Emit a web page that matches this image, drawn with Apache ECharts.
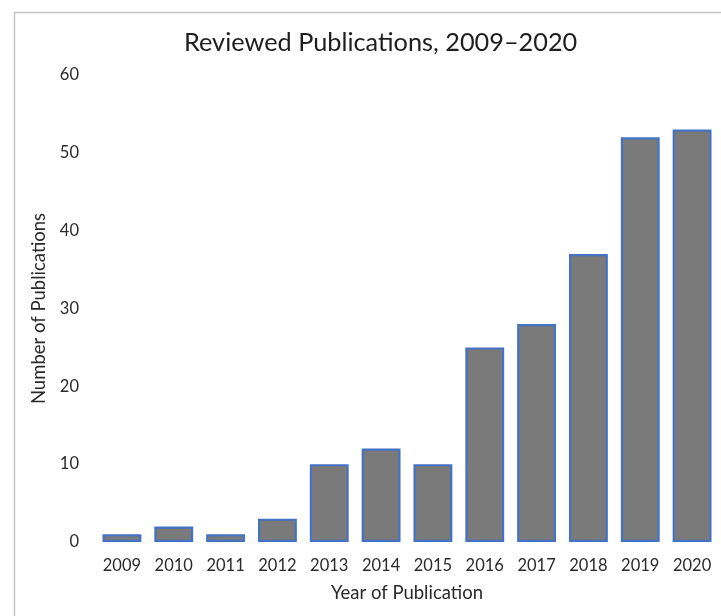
<!DOCTYPE html>
<html><head><meta charset="utf-8">
<script src="https://cdn.jsdelivr.net/npm/echarts@6/dist/echarts.min.js"></script>
<style>html,body{margin:0;padding:0;background:#fff}#c{width:721px;height:616px}</style>
</head><body><div id="c"></div>
<script>
const years = ['2009','2010','2011','2012','2013','2014','2015','2016','2017','2018','2019','2020'];
const publications = [1,2,1,3,10,12,10,25,28,37,52,53];
const chart = echarts.init(document.getElementById('c'));
const font = 'Lato, "Noto Sans", sans-serif';
chart.setOption({
  animation:false,
  backgroundColor:'#fff',
  graphic:[{type:'rect',shape:{x:14.5,y:12.5,width:800,height:800},style:{fill:'none',stroke:'#c4c4c4',lineWidth:1.5},z:-1}],
  title:{text:'Reviewed Publications, 2009–2020',left:179,top:25,textStyle:{fontFamily:font,fontSize:25.3,fontWeight:'normal',color:'#1e1e1e'}},
  grid:{left:96,right:3,top:75,bottom:74},
  xAxis:{type:'category',data:years,axisLine:{show:false},axisTick:{show:false},
    axisLabel:{fontFamily:font,fontSize:16.5,color:'#2a2a2a',margin:15},
    name:'Year of Publication',nameLocation:'middle',nameGap:42,nameTextStyle:{fontFamily:font,fontSize:18.5,color:'#2a2a2a'}},
  yAxis:{type:'value',min:0,max:60,interval:10,splitLine:{show:false},axisLine:{show:false},axisTick:{show:false},
    axisLabel:{fontFamily:font,fontSize:16.5,color:'#2a2a2a',margin:17},
    name:'Number of Publications',nameLocation:'middle',nameGap:38,nameTextStyle:{fontFamily:font,fontSize:18.5,color:'#2a2a2a'}},
  series:[{type:'bar',data:publications,barWidth:'75%',itemStyle:{color:'#7a7a7a',borderColor:'#4472c4',borderWidth:2.2}}]
});
</script></body></html>
